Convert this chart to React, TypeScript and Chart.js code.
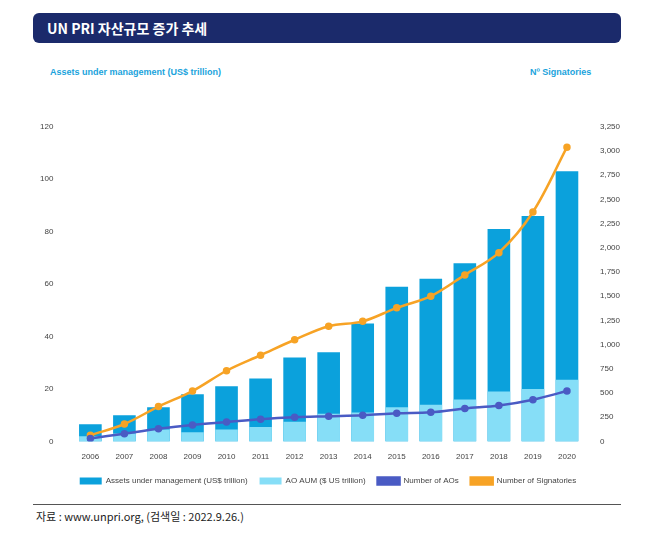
import React, { useEffect, useRef } from "react";
import { Chart, registerables } from "chart.js";
Chart.register(...registerables);

const years = ["2006","2007","2008","2009","2010","2011","2012","2013","2014","2015","2016","2017","2018","2019","2020"];
const aum = [6.5, 10, 13, 18, 21, 24, 32, 34, 45, 59, 62, 68, 81, 86, 103];
const aoAum = [2, 3, 4.5, 3.5, 4.5, 5.5, 7.5, 10.5, 11, 13, 14, 16, 19, 20, 23.5];
const aos = [30, 80, 130, 170, 200, 230, 250, 260, 270, 290, 300, 340, 370, 430, 520];
const signatories = [63, 180, 360, 520, 730, 890, 1050, 1190, 1240, 1380, 1500, 1720, 1950, 2370, 3040];

export default function App() {
  const ref = useRef<HTMLCanvasElement>(null);
  useEffect(() => {
    const tickFont = { size: 8, family: "Liberation Sans" };
    const chart = new Chart(ref.current!, {
      type: "bar",
      data: {
        labels: years,
        datasets: [
          { type: "line", label: "Number of AOs", data: aos, yAxisID: "y1", borderColor: "#4a5bc4", backgroundColor: "#4a5bc4", borderWidth: 2.5, pointRadius: 2.5, tension: 0.35, order: 0 },
          { type: "line", label: "Number of Signatories", data: signatories, yAxisID: "y1", borderColor: "#f7a325", backgroundColor: "#f7a325", borderWidth: 2.5, pointRadius: 2.5, tension: 0.35, order: 0 },
          { label: "Assets under management (US$ trillion)", data: aum, yAxisID: "y", backgroundColor: "#0ba1dc", grouped: false, categoryPercentage: 0.7, barPercentage: 0.95, order: 2 } as any,
          { label: "AO AUM ($ US trillion)", data: aoAum, yAxisID: "y", backgroundColor: "#86def7", grouped: false, categoryPercentage: 0.7, barPercentage: 0.95, order: 1 } as any,
        ],
      },
      options: {
        animation: false,
        responsive: false,
        maintainAspectRatio: false,
        layout: { padding: { left: 0, right: 0, top: 6, bottom: 0 } },
        plugins: {
          tooltip: { enabled: false },
          legend: {
            position: "bottom",
            labels: {
              font: { size: 8, family: "Liberation Sans" }, color: "#444", boxWidth: 22, boxHeight: 7, padding: 12,
              sort: (a: any, b: any) => [2, 3, 0, 1].indexOf(a.datasetIndex) - [2, 3, 0, 1].indexOf(b.datasetIndex),
            },
          },
        },
        scales: {
          x: { grid: { display: false }, border: { display: false }, ticks: { font: tickFont, color: "#444" } },
          y: { position: "left", min: 0, max: 120, grid: { display: false }, border: { display: false }, ticks: { stepSize: 20, font: tickFont, color: "#444", padding: 12 } },
          y1: { position: "right", min: 0, max: 3250, grid: { display: false }, border: { display: false }, ticks: { stepSize: 250, font: tickFont, color: "#444", padding: 8 } },
        },
      },
    });
    return () => chart.destroy();
  }, []);
  return (
    <div style={{ position: "absolute", left: 0, top: 0, width: 661, height: 537, background: "#fff", fontFamily: "'Noto Sans CJK KR', sans-serif" }}>
      <div style={{ position: "absolute", left: 33, top: 13, width: 588, height: 30, background: "#1b2a6b", borderRadius: 6, color: "#fff", fontWeight: 700, fontSize: 14, lineHeight: "30px", paddingLeft: 14, boxSizing: "border-box" }}>UN PRI 자산규모 증가 추세</div>
      <div style={{ position: "absolute", left: 50, top: 67, fontSize: 9, fontWeight: 700, color: "#1aa3dc", fontFamily: "Liberation Sans" }}>Assets under management (US$ trillion)</div>
      <div style={{ position: "absolute", left: 530, top: 67, fontSize: 9, fontWeight: 700, color: "#1aa3dc", fontFamily: "Liberation Sans" }}>Nº Signatories</div>
      <canvas ref={ref} width={600} height={385} style={{ position: "absolute", left: 28, top: 110 }} />
      <div style={{ position: "absolute", left: 33, top: 504, width: 588, borderTop: "1px solid #555" }} />
      <div style={{ position: "absolute", left: 36, top: 508, fontSize: 11, color: "#222" }}>자료 : www.unpri.org, (검색일 : 2022.9.26.)</div>
    </div>
  );
}
